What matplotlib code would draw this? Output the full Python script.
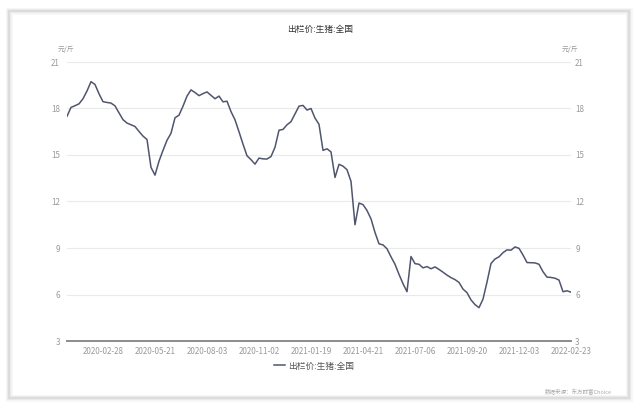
import matplotlib
matplotlib.use("Agg")
import matplotlib.pyplot as plt
from matplotlib.patches import Rectangle
import numpy as np

plt.rcParams['font.family'] = ['Noto Sans CJK SC', 'DejaVu Sans']

# hog price, national, yuan/jin (evenly spaced samples)
price = [17.5, 18.07, 18.18, 18.3, 18.63, 19.13, 19.73, 19.55, 18.95, 18.44,
         18.39, 18.35, 18.17, 17.72, 17.28, 17.06, 16.95, 16.84, 16.52, 16.22,
         16.0, 14.2, 13.7, 14.6, 15.3, 15.95, 16.4, 17.4, 17.57, 18.15,
         18.8, 19.2, 19.03, 18.83, 18.96, 19.07, 18.85, 18.63, 18.8, 18.43,
         18.47, 17.8, 17.27, 16.5, 15.7, 14.95, 14.7, 14.41, 14.8, 14.75,
         14.74, 14.9, 15.5, 16.6, 16.65, 16.95, 17.15, 17.65, 18.15, 18.2,
         17.9, 18.0, 17.38, 16.98, 15.3, 15.4, 15.2, 13.55, 14.4, 14.28,
         14.05, 13.3, 10.5, 11.9, 11.8, 11.42, 10.88, 10.0, 9.27, 9.2,
         8.95, 8.43, 7.95, 7.3, 6.7, 6.18, 8.45, 7.99, 7.95, 7.72,
         7.8, 7.66, 7.78, 7.62, 7.44, 7.25, 7.09, 6.96, 6.78, 6.35,
         6.12, 5.65, 5.35, 5.15, 5.7, 6.8, 8.0, 8.29, 8.43, 8.7,
         8.88, 8.86, 9.07, 8.98, 8.55, 8.06, 8.05, 8.04, 7.95, 7.47,
         7.12, 7.1, 7.05, 6.93, 6.18, 6.24, 6.15]

tick_labels = ['2020-02-28', '2020-05-21', '2020-08-03', '2020-11-02', '2021-01-19',
               '2021-04-21', '2021-07-06', '2021-09-20', '2021-12-03', '2022-02-23']
y_ticks = [3, 6, 9, 12, 15, 18, 21]
series_name = '出栏价:生猪:全国'

line_color = '#4f556e'
text_gray = '#9a9a9a'

fig = plt.figure(figsize=(6.4, 4.11), dpi=100)
fig.patch.set_facecolor('white')

# card with soft shadow
W, H = 640.0, 411.0
for lw, a in [(5, 0.10), (3, 0.15), (1.5, 0.25)]:
    fig.patches.append(Rectangle((9 / W, 1 - 398 / H), 620 / W, 387 / H,
                                 transform=fig.transFigure, fill=False,
                                 edgecolor='#b0b0b0', linewidth=lw, alpha=a))

ax = fig.add_axes([67 / W, 1 - 341 / H, 504 / W, 279 / H])
x = np.arange(len(price))
ax.plot(x, price, color=line_color, linewidth=1.1, label=series_name)

ax.set_xlim(0, len(price) - 1)
ax.set_ylim(3, 21)
ax.set_yticks(y_ticks)
ax.set_yticklabels([str(v) for v in y_ticks])
ax.grid(axis='y', color='#eaeaea', linewidth=0.8)
ax.set_axisbelow(True)

first, step = 9, 13
ax.set_xticks([first + step * i for i in range(len(tick_labels))])
ax.set_xticklabels(tick_labels)

for s in ['top', 'right', 'left']:
    ax.spines[s].set_visible(False)
ax.spines['bottom'].set_color('#8c8c8c')
ax.spines['bottom'].set_linewidth(1.4)
ax.tick_params(axis='x', length=0, pad=4, labelsize=5.8, labelcolor=text_gray)
ax.tick_params(axis='y', length=0, pad=5, labelsize=5.8, labelcolor=text_gray)

ax2 = ax.twinx()
ax2.set_ylim(3, 21)
ax2.set_yticks(y_ticks)
ax2.set_yticklabels([str(v) for v in y_ticks])
for s in ['top', 'right', 'left', 'bottom']:
    ax2.spines[s].set_visible(False)
ax2.tick_params(axis='y', length=0, pad=3, labelsize=5.8, labelcolor=text_gray)

ax.text(-0.018, 1.03, '元/斤', transform=ax.transAxes, fontsize=5, color=text_gray,
        ha='left', va='bottom', style='italic')
ax.text(1.015, 1.03, '元/斤', transform=ax.transAxes, fontsize=5, color=text_gray,
        ha='right', va='bottom', style='italic')

fig.text(320 / W, 1 - 29 / H, series_name, ha='center', va='center',
         fontsize=6.3, color='#333333')

fig.legend(loc='center', bbox_to_anchor=(314 / W, 1 - 366 / H), frameon=False,
           fontsize=6.3, handlelength=1.2, handletextpad=0.4, labelcolor='#555555')

fig.text(612 / W, 1 - 392 / H, '数据来源：东方财富Choice', ha='right', va='center',
         fontsize=4, color='#aaaaaa')

fig.savefig('out.png', dpi=100)
